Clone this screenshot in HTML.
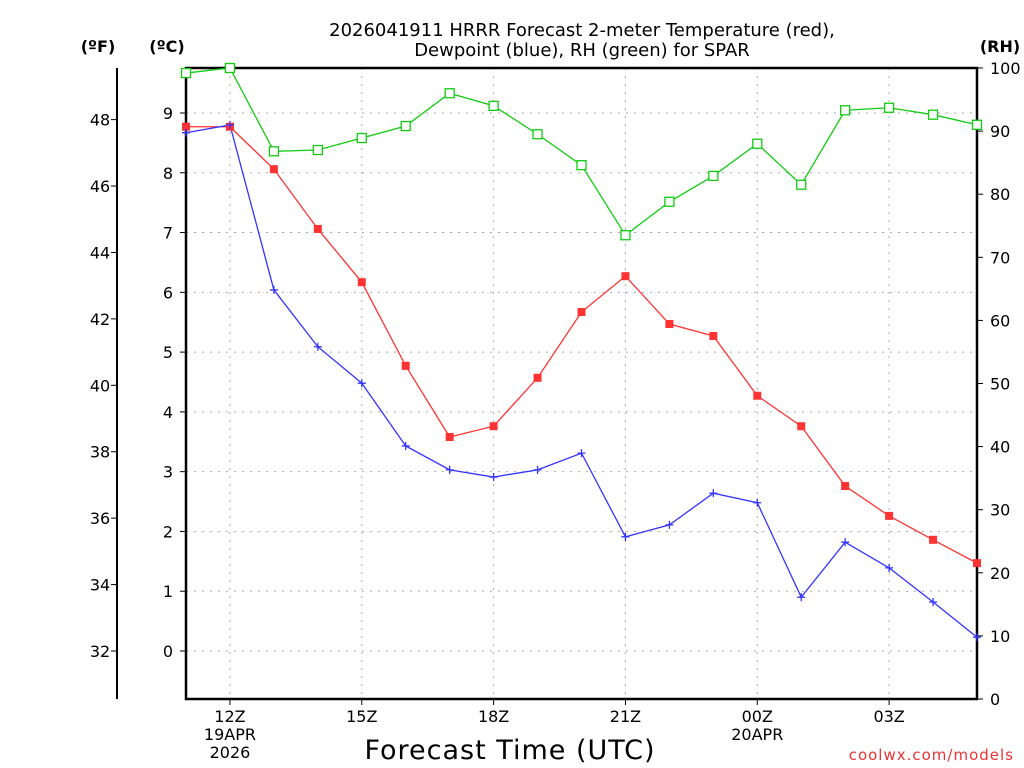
<!DOCTYPE html>
<html><head><meta charset="utf-8"><style>
html,body{margin:0;padding:0;background:#fff}
svg{display:block;font-family:"DejaVu Sans","Liberation Sans",sans-serif}
</style></head><body>
<svg id="c" width="1024" height="768" viewBox="0 0 1024 768">
<rect width="1024" height="768" fill="#fff"/>
<text x="582" y="36" text-anchor="middle" font-size="18">2026041911 HRRR Forecast 2-meter Temperature (red),</text>
<text x="582" y="56" text-anchor="middle" font-size="18">Dewpoint (blue), RH (green) for SPAR</text>
<text x="98" y="52" text-anchor="middle" font-size="16" font-weight="bold">(ºF)</text>
<text x="167" y="52" text-anchor="middle" font-size="16" font-weight="bold">(ºC)</text>
<text x="1000" y="52" text-anchor="middle" font-size="16" font-weight="bold">(RH)</text>
<text x="510" y="759" text-anchor="middle" font-size="27" letter-spacing="1">Forecast Time (UTC)</text>
<text x="1014" y="760" text-anchor="end" font-size="15" fill="#e33" letter-spacing="1">coolwx.com/models</text>
<g id="grid"></g><g id="axes"></g><g id="series"></g>
</svg>
<script>
const hours = ["11Z","12Z","13Z","14Z","15Z","16Z","17Z","18Z","19Z","20Z","21Z","22Z","23Z","00Z","01Z","02Z","03Z","04Z","05Z"];
const tempC = [8.77,8.77,8.06,7.06,6.17,4.77,3.58,3.76,4.57,5.67,6.27,5.47,5.27,4.27,3.76,2.76,2.26,1.86,1.47];
const dewC = [8.67,8.8,6.04,5.09,4.48,3.43,3.03,2.91,3.03,3.31,1.91,2.11,2.64,2.48,0.9,1.82,1.39,0.82,0.23];
const rh = [99.2,100,86.8,87,88.9,90.8,96,94,89.5,84.6,73.5,78.8,82.9,88,81.5,93.3,93.7,92.6,91];
const cTicks = [0,1,2,3,4,5,6,7,8,9];
const fTicks = [32,34,36,38,40,42,44,46,48];
const rhTicks = [0,10,20,30,40,50,60,70,80,90,100];
const xTickLabels = [[1,"12Z","19APR","2026"],[4,"15Z"],[7,"18Z"],[10,"21Z"],[13,"00Z","20APR"],[16,"03Z"]];

const L=186,R=977,T=68,B=699;
const xs=i=>L+i*(R-L)/(hours.length-1);
const yC=c=>651-c*59.78;
const yF=f=>yC((f-32)/1.8);
const yRH=v=>B-v*(B-T)/100;
const NS="http://www.w3.org/2000/svg";
function mk(tag,parent,attrs){const e=document.createElementNS(NS,tag);for(const k in attrs)e.setAttribute(k,attrs[k]);parent.appendChild(e);return e;}
const grid=document.getElementById('grid'),axes=document.getElementById('axes'),ser=document.getElementById('series');

cTicks.forEach(c=>{const y=yC(c);
 let g=mk('line',grid,{x1:L,x2:R,y1:y,y2:y,stroke:'#aaa','stroke-dasharray':'2,6'});
 
 
 mk('line',axes,{x1:L-6,x2:L,y1:y,y2:y,stroke:'#000'});
 let t=mk('text',axes,{x:L-13,y:y+6,'text-anchor':'end','font-size':16});t.textContent=c;
 
 
});
fTicks.forEach(f=>{const y=yF(f);
 mk('line',axes,{x1:111,x2:117,y1:y,y2:y,stroke:'#000'});
 let t=mk('text',axes,{x:100,y:y+6,'text-anchor':'middle','font-size':16});t.textContent=f;
 
 
});
rhTicks.forEach(v=>{const y=yRH(v);
 mk('line',axes,{x1:R,x2:R+6,y1:y,y2:y,stroke:'#000'});
 let t=mk('text',axes,{x:R+13,y:y+6,'font-size':16});t.textContent=v;
 
 
});
xTickLabels.forEach(a=>{const x=xs(a[0]);
 let g=mk('line',grid,{x1:x,x2:x,y1:T,y2:B,stroke:'#aaa','stroke-dasharray':'2,6'});
 
 
 mk('line',axes,{x1:x,x2:x,y1:B,y2:B+6,stroke:'#000'});
 for(let k=1;k<a.length;k++){let t=mk('text',axes,{x:x,y:B+23+(k-1)*18,'text-anchor':'middle','font-size':16});t.textContent=a[k];
  
  }
});
let fax=mk('line',axes,{x1:117,x2:117,y1:T,y2:B,stroke:'#000','stroke-width':2});


let frame=mk('rect',axes,{x:L,y:T,width:R-L,height:B-T,fill:'none',stroke:'#000','stroke-width':2.5});



function line(vals,yf,color,name){
 let p=mk('polyline',ser,{points:vals.map((v,i)=>xs(i)+','+yf(v)).join(' '),fill:'none',stroke:color,'stroke-width':1.3});
 
 
}
line(tempC,yC,'#f33','temperature');
line(dewC,yC,'#33f','dewpoint');
line(rh,yRH,'#1c1','rh');
tempC.forEach((v,i)=>{let m=mk('rect',ser,{x:xs(i)-4,y:yC(v)-4,width:8,height:8,fill:'#f33'});
 
 });
dewC.forEach((v,i)=>{const x=xs(i),y=yC(v);let m=mk('path',ser,{d:`M${x-4},${y}H${x+4}M${x},${y-4}V${y+4}`,stroke:'#33f','stroke-width':1.3});
 
 });
rh.forEach((v,i)=>{let m=mk('rect',ser,{x:xs(i)-4.5,y:yRH(v)-4.5,width:9,height:9,fill:'#fff',stroke:'#1c1','stroke-width':1.3});
 
 });
</script>
</body></html>
